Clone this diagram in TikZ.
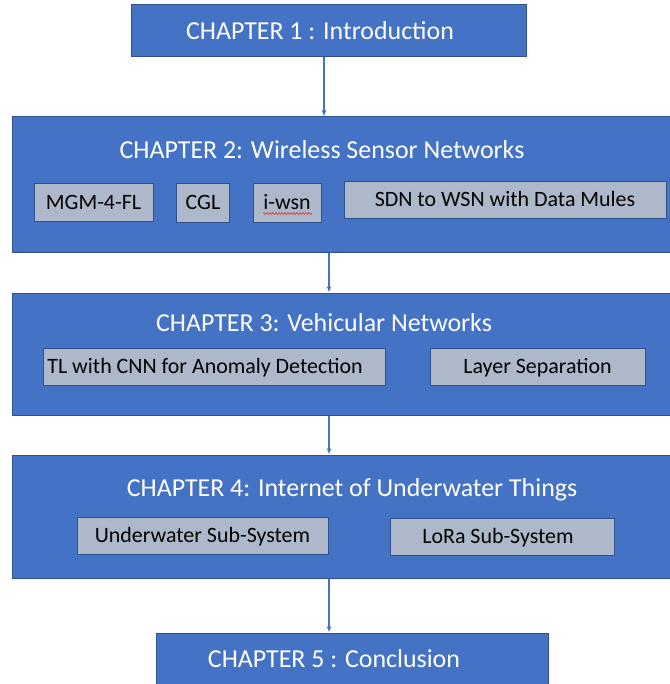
\documentclass[tikz,border=0pt]{standalone}
\usepackage{fontspec}
\setmainfont{Carlito}
\usepackage{xcolor}
\usetikzlibrary{arrows.meta,decorations.pathmorphing}
\definecolor{chapblue}{HTML}{4472C4}
\definecolor{chapedge}{HTML}{2F528F}
\definecolor{topicgray}{HTML}{ADB9CA}
\definecolor{spellred}{HTML}{D83A2E}

\tikzset{
  chapter/.style={draw=chapedge, fill=chapblue, line width=1bp, inner sep=0pt},
  chaptitle/.style={text=white, font=\fontsize{26}{30}\selectfont, inner sep=0pt,
    text height=17bp, text depth=0bp},
  topic/.style={draw=chapedge, fill=topicgray, line width=0.8bp, inner sep=0pt,
    font=\fontsize{22}{26}\selectfont, text height=14bp, text depth=0bp},
  flow/.style={chapblue, line width=1.3bp, -{Latex[length=6bp,width=5bp]}}
}

\begin{document}
\begin{tikzpicture}[x=1bp, y=-1bp]
  \useasboundingbox (0,0) rectangle (670,684);
  \coordinate (spine) at (329,0);

  % ── Chapter 1 ──
  \node[chapter, minimum width=394bp, minimum height=52bp] (ch1) at (329,31) {};
  \node[chaptitle] (ch1title) at (320,31) {CHAPTER 1 : Introduction};

  % ── Chapter 2 ──
  \node[chapter, minimum width=659bp, minimum height=135bp] (ch2) at (342.5,184.5) {};
  \node[chaptitle] (ch2title) at (322,150) {CHAPTER 2: Wireless Sensor Networks};
  \node[topic, minimum width=119bp, minimum height=38bp] (mgm) at (93.5,202) {MGM-4-FL};
  \node[topic, minimum width=53bp, minimum height=39bp] (cgl) at (203,202.5) {CGL};
  \node[topic, minimum width=68bp, minimum height=39bp] (iwsn) at (287,202.5) {i-wsn};
  \draw[spellred, line width=0.6bp, decorate,
    decoration={snake, amplitude=1bp, segment length=3bp}]
    ([shift={(-24,11)}]iwsn.center) -- ([shift={(25,11)}]iwsn.center);
  \node[topic, minimum width=322bp, minimum height=37bp] (sdn) at (505,199.5) {SDN to WSN with Data Mules};

  % ── Chapter 3 ──
  \node[chapter, minimum width=659bp, minimum height=122bp] (ch3) at (342.5,354) {};
  \node[chaptitle] (ch3title) at (324,323) {CHAPTER 3: Vehicular Networks};
  \node[topic, minimum width=342bp, minimum height=37bp] (tlcnn) at (214,366.5) {};
  \node[font=\fontsize{22}{26}\selectfont, inner sep=0pt, text height=14bp, text depth=0bp]
    (tlcnntext) at (205,366.5) {TL with CNN for Anomaly Detection};
  \node[topic, minimum width=215bp, minimum height=37bp] (layer) at (537.5,366.5) {Layer Separation};

  % ── Chapter 4 ──
  \node[chapter, minimum width=659bp, minimum height=123bp] (ch4) at (342.5,516.5) {};
  \node[chaptitle] (ch4title) at (352,488) {CHAPTER 4: Internet of Underwater Things};
  \node[topic, minimum width=251bp, minimum height=37bp] (uw) at (202.5,535.5) {Underwater Sub-System};
  \node[topic, minimum width=224bp, minimum height=37bp] (lora) at (502,536.5) {};
  \node[font=\fontsize{22}{26}\selectfont, inner sep=0pt, text height=14bp, text depth=0bp]
    (loratext) at (498,536.5) {LoRa Sub-System};

  % ── Chapter 5 ──
  \node[chapter, minimum width=392bp, minimum height=53bp] (ch5) at (352,659.5) {};
  \node[chaptitle] (ch5title) at (334,659) {CHAPTER 5 : Conclusion};

  % ── flow between chapters ──
  \draw[flow] ([xshift=-5bp]ch1.south) -- ([xshift=-5bp]ch1.south |- ch2.north);
  \draw[flow] (ch2.south -| spine) -- (ch3.north -| spine);
  \draw[flow] (ch3.south -| spine) -- (ch4.north -| spine);
  \draw[flow] (ch4.south -| spine) -- (ch5.north -| spine);
\end{tikzpicture}
\end{document}
